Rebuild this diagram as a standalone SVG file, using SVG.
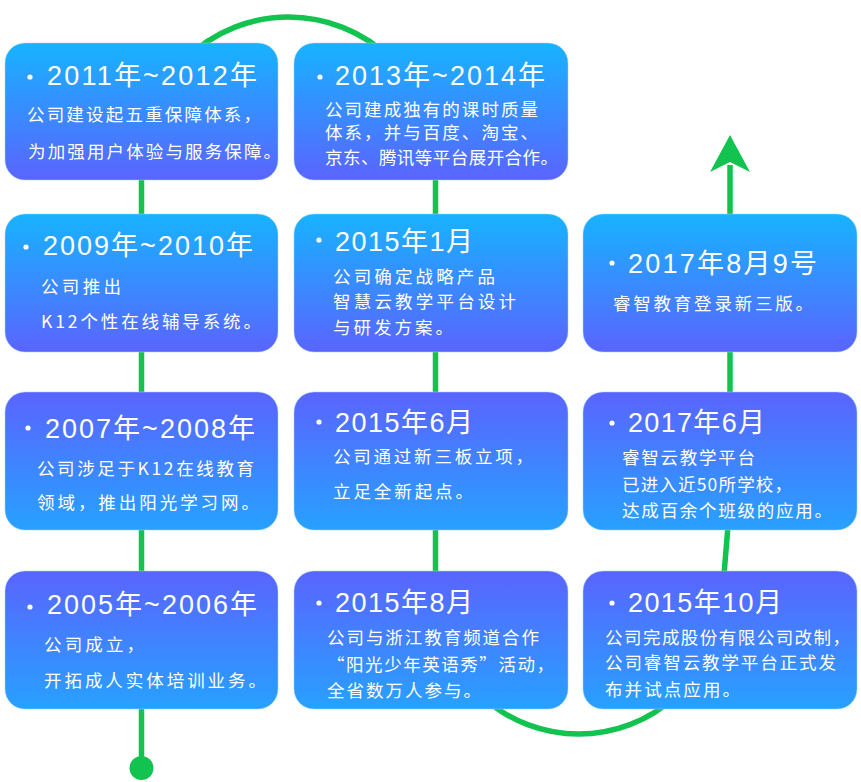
<svg xmlns="http://www.w3.org/2000/svg" width="861" height="782" viewBox="0 0 861 782">
<style>
.box{stroke:#9fd6ff;stroke-opacity:0.5;stroke-width:1}
.down{fill:url(#gDown)}
.up{fill:url(#gUp)}
.t{font-family:"Liberation Sans","Noto Sans CJK SC",sans-serif;font-size:27px;fill:#fff}
.b{font-family:"Noto Sans CJK SC",sans-serif;font-size:17.5px;fill:#fff}
.dot{fill:#fff}
.ln{fill:none;stroke:#12c350;stroke-width:5.5}
</style>
<defs>
<linearGradient id="gDown" x1="0" y1="0" x2="0" y2="1">
<stop offset="0" stop-color="#17b3ff"/>
<stop offset="1" stop-color="#5a64ff"/>
</linearGradient>
<linearGradient id="gUp" x1="0" y1="0" x2="0" y2="1">
<stop offset="0" stop-color="#5a64ff"/>
<stop offset="1" stop-color="#27a1ff"/>
</linearGradient>
</defs>
<g id="connectors">
<path class="ln" d="M141.5,768 V164 A147,147 0 0 1 435.5,164 V599 A143.5,143.5 0 0 0 722,599 L728.5,520 L730,390 V165"/>
<polygon points="730,135 750,172 730,162 710,172" fill="#12c350"/>
<circle cx="141.5" cy="768" r="12" fill="#12c350"/>
</g>
<g id="n2011">
<rect class="box down" x="5" y="43" width="273" height="137" rx="20"/>
<circle class="dot" cx="30" cy="77" r="2.6"/>
<text class="t" x="47" y="85" textLength="210" lengthAdjust="spacing">2011年~2012年</text>
<text class="b" x="27" y="121" textLength="234" lengthAdjust="spacing">公司建设起五重保障体系，</text>
<text class="b" x="28" y="158" textLength="253" lengthAdjust="spacing">为加强用户体验与服务保障。</text>
</g>
<g id="n2009">
<rect class="box down" x="5" y="214" width="273" height="138" rx="20"/>
<circle class="dot" cx="26" cy="247" r="2.6"/>
<text class="t" x="43" y="255" textLength="210" lengthAdjust="spacing">2009年~2010年</text>
<text class="b" x="41" y="293" textLength="80" lengthAdjust="spacing">公司推出</text>
<text class="b" x="41" y="328" textLength="220" lengthAdjust="spacing">K12个性在线辅导系统。</text>
</g>
<g id="n2007">
<rect class="box up" x="5" y="392" width="273" height="138" rx="20"/>
<circle class="dot" cx="28" cy="428" r="2.6"/>
<text class="t" x="45" y="438" textLength="210" lengthAdjust="spacing">2007年~2008年</text>
<text class="b" x="37" y="475" textLength="217" lengthAdjust="spacing">公司涉足于K12在线教育</text>
<text class="b" x="37" y="509" textLength="222" lengthAdjust="spacing">领域，推出阳光学习网。</text>
</g>
<g id="n2005">
<rect class="box up" x="5" y="571" width="273" height="138" rx="20"/>
<circle class="dot" cx="30" cy="607" r="2.6"/>
<text class="t" x="47" y="614" textLength="210" lengthAdjust="spacing">2005年~2006年</text>
<text class="b" x="44" y="651" textLength="100" lengthAdjust="spacing">公司成立，</text>
<text class="b" x="44" y="687" textLength="222" lengthAdjust="spacing">开拓成人实体培训业务。</text>
</g>
<g id="n2013">
<rect class="box down" x="294" y="43" width="274" height="137" rx="20"/>
<circle class="dot" cx="320" cy="77" r="2.6"/>
<text class="t" x="335" y="85" textLength="210" lengthAdjust="spacing">2013年~2014年</text>
<text class="b" x="325" y="116" textLength="213" lengthAdjust="spacing">公司建成独有的课时质量</text>
<text class="b" x="325" y="139" textLength="213" lengthAdjust="spacing">体系，并与百度、淘宝、</text>
<text class="b" x="325" y="164" textLength="233" lengthAdjust="spacing">京东、腾讯等平台展开合作。</text>
</g>
<g id="n2015-1">
<rect class="box down" x="294" y="214" width="274" height="138" rx="20"/>
<circle class="dot" cx="319" cy="240" r="2.6"/>
<text class="t" x="335" y="251" textLength="138" lengthAdjust="spacing">2015年1月</text>
<text class="b" x="333" y="283" textLength="162" lengthAdjust="spacing">公司确定战略产品</text>
<text class="b" x="333" y="308" textLength="183" lengthAdjust="spacing">智慧云教学平台设计</text>
<text class="b" x="333" y="334" textLength="120" lengthAdjust="spacing">与研发方案。</text>
</g>
<g id="n2015-6">
<rect class="box up" x="294" y="392" width="274" height="138" rx="20"/>
<circle class="dot" cx="319" cy="422" r="2.6"/>
<text class="t" x="335" y="432" textLength="138" lengthAdjust="spacing">2015年6月</text>
<text class="b" x="333" y="463" textLength="200" lengthAdjust="spacing">公司通过新三板立项，</text>
<text class="b" x="333" y="498" textLength="140" lengthAdjust="spacing">立足全新起点。</text>
</g>
<g id="n2015-8">
<rect class="box up" x="294" y="571" width="274" height="138" rx="20"/>
<circle class="dot" cx="319" cy="603" r="2.6"/>
<text class="t" x="335" y="612" textLength="138" lengthAdjust="spacing">2015年8月</text>
<text class="b" x="327" y="644" textLength="212" lengthAdjust="spacing">公司与浙江教育频道合作</text>
<text class="b" x="327" y="671" textLength="227" lengthAdjust="spacing">“阳光少年英语秀”活动，</text>
<text class="b" x="327" y="697" textLength="154" lengthAdjust="spacing">全省数万人参与。</text>
</g>
<g id="n2017-8-9">
<rect class="box down" x="583" y="214" width="274" height="138" rx="20"/>
<circle class="dot" cx="612" cy="263" r="2.6"/>
<text class="t" x="628" y="273" textLength="189" lengthAdjust="spacing">2017年8月9号</text>
<text class="b" x="613" y="310" textLength="200" lengthAdjust="spacing">睿智教育登录新三版。</text>
</g>
<g id="n2017-6">
<rect class="box up" x="583" y="392" width="274" height="138" rx="20"/>
<circle class="dot" cx="612" cy="423" r="2.6"/>
<text class="t" x="628" y="432" textLength="137" lengthAdjust="spacing">2017年6月</text>
<text class="b" x="622" y="464" textLength="133" lengthAdjust="spacing">睿智云教学平台</text>
<text class="b" x="622" y="491" textLength="170" lengthAdjust="spacing">已进入近50所学校，</text>
<text class="b" x="622" y="517" textLength="210" lengthAdjust="spacing">达成百余个班级的应用。</text>
</g>
<g id="n2015-10">
<rect class="box up" x="583" y="571" width="274" height="138" rx="20"/>
<circle class="dot" cx="612" cy="603" r="2.6"/>
<text class="t" x="628" y="612" textLength="154" lengthAdjust="spacing">2015年10月</text>
<text class="b" x="605" y="644" textLength="245" lengthAdjust="spacing">公司完成股份有限公司改制，</text>
<text class="b" x="605" y="669" textLength="231" lengthAdjust="spacing">公司睿智云教学平台正式发</text>
<text class="b" x="605" y="696" textLength="135" lengthAdjust="spacing">布并试点应用。</text>
</g>
</svg>
